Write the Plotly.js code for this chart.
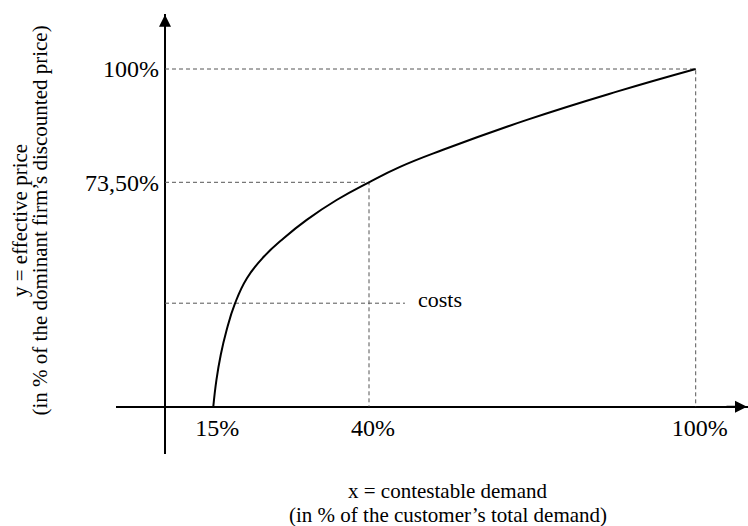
<!DOCTYPE html>
<html>
<head>
<meta charset="utf-8">
<script src="https://cdn.plot.ly/plotly-3.0.1.min.js"></script>
<style>html,body{margin:0;padding:0;background:#fff;}#chart{width:748px;height:526px;}</style>
</head>
<body>
<div id="chart"></div>
<script>
// ---- data (percent values) ----
const curveX = [15, 15.5, 16.2, 17.1, 18.5, 20.4, 23.1, 26.3, 30.0, 34.8, 40, 45.7, 53.6, 69.0, 85.5, 100];
const curveY = [0, 8.7, 17.0, 24.8, 33.9, 42.1, 49.1, 55.2, 61.2, 67.7, 73.5, 77.1, 81.1, 88.1, 94.7, 100];
const xTickPct = [15, 40, 100];
const xTickLabels = ['15%', '40%', '100%'];
const yTickPct = [73.5, 100];
const yTickLabels = ['73,50%', '100%'];
const markX = [40, 100];      // contestable demand of the marked points
const markY = [73.5, 100];    // effective price of the marked points
const costsLevel = 33.9;
const costsLineEnd = 46.6;

// ---- schematic (not-to-scale) axes of the original sketch ----
const xScalePct = [0, 15, 40, 100];
const xScalePos = [0, 48.3, 204, 530.7];
const yScalePct = [0, 73.5, 100];
const yScalePos = [0, 224.4, 337.7];
function interp(v, a, b) {
  for (let i = 0; i < a.length - 1; i++) {
    if (v <= a[i + 1] || i === a.length - 2) {
      return b[i] + (v - a[i]) * (b[i + 1] - b[i]) / (a[i + 1] - a[i]);
    }
  }
}
const mx = v => interp(v, xScalePct, xScalePos);
const my = v => interp(v, yScalePct, yScalePos);

const dashStyle = {color: '#555', width: 1, dash: '4px,3px'};
const traces = [];
markX.forEach((x, i) => {
  traces.push({
    x: [0, x, x].map(mx), y: [markY[i], markY[i], 0].map(my),
    mode: 'lines', line: dashStyle, hoverinfo: 'skip'
  });
});
traces.push({
  x: [0, costsLineEnd].map(mx), y: [costsLevel, costsLevel].map(my),
  mode: 'lines', line: dashStyle, hoverinfo: 'skip'
});
traces.push({
  x: curveX.map(mx), y: curveY.map(my),
  mode: 'lines', line: {color: '#000', width: 2, shape: 'spline', smoothing: 1.3},
  name: 'effective price'
});

const serif = '"Liberation Serif", "Times New Roman", serif';
const tf = (s) => ({size: s, family: serif, color: '#000'});
const layout = {
  width: 748, height: 526,
  margin: {l: 116, r: 0, t: 14, b: 72, pad: 0},
  paper_bgcolor: '#fff', plot_bgcolor: '#fff',
  showlegend: false,
  font: tf(22),
  xaxis: {
    range: [-49, 583], showgrid: false, showline: false,
    zeroline: true, zerolinecolor: '#000', zerolinewidth: 2,
    ticks: '', tickvals: xTickPct.map(mx), ticktext: xTickLabels,
    tickfont: tf(24),
    anchor: 'free', position: 0.1075, ticklabelstandoff: 4, ticklabelshift: 4,
    fixedrange: true
  },
  yaxis: {
    range: [-47.3, 392.7], showgrid: false, showline: false,
    zeroline: true, zerolinecolor: '#000', zerolinewidth: 2,
    ticks: '', tickvals: yTickPct.map(my), ticktext: yTickLabels,
    tickfont: tf(24),
    anchor: 'free', position: 0.0775, ticklabelstandoff: 6,
    fixedrange: true
  },
  annotations: [
    {x: 582, y: 0, ax: -22, ay: 0, text: '', showarrow: true, arrowhead: 2, arrowsize: 1.2, arrowwidth: 2, arrowcolor: '#000'},
    {x: 0, y: 392, ax: 0, ay: 22, text: '', showarrow: true, arrowhead: 2, arrowsize: 1.2, arrowwidth: 2, arrowcolor: '#000'},
    {x: mx(costsLineEnd), y: my(costsLevel), xanchor: 'left', yanchor: 'middle', xshift: 11, yshift: 4,
     text: 'costs', showarrow: false, font: tf(22)},
    {xref: 'paper', yref: 'paper', x: 0.5253, y: -0.0841, text: 'x = contestable demand', showarrow: false,
     xanchor: 'center', yanchor: 'middle', font: tf(21)},
    {xref: 'paper', yref: 'paper', x: 0.5253, y: -0.1386, text: '(in % of the customer’s total demand)', showarrow: false,
     xanchor: 'center', yanchor: 'middle', font: tf(21)},
    {xref: 'paper', yref: 'paper', x: -0.1519, y: 0.5318, text: 'y = effective price', textangle: -90, showarrow: false,
     xanchor: 'center', yanchor: 'middle', font: tf(21)},
    {xref: 'paper', yref: 'paper', x: -0.1195, y: 0.5318, text: '(in % of the dominant firm’s discounted price)', textangle: -90,
     showarrow: false, xanchor: 'center', yanchor: 'middle', font: tf(21)}
  ]
};

Plotly.newPlot('chart', traces, layout, {displayModeBar: false, staticPlot: true});
</script>
</body>
</html>
